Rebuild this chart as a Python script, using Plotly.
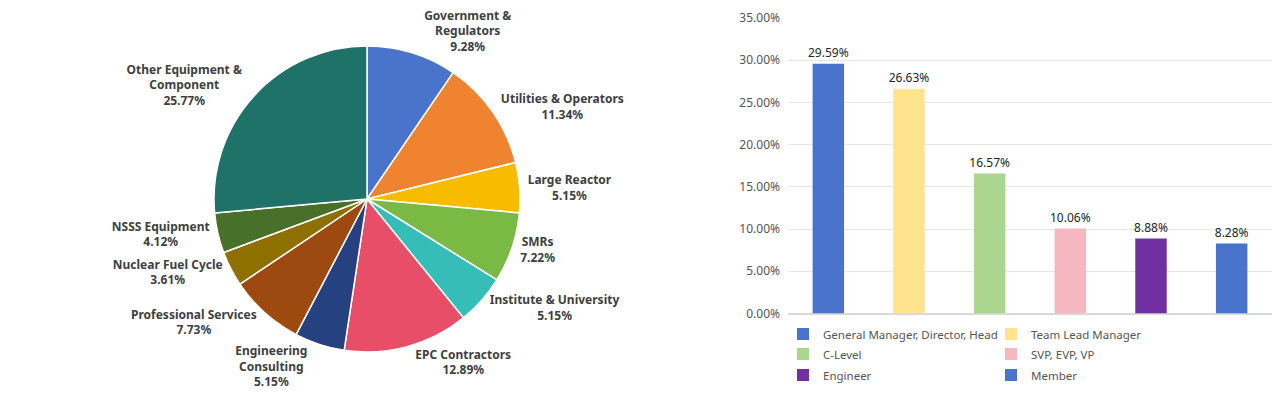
import plotly.graph_objects as go

# Pie data
pie_labels = ["Government &<br>Regulators", "Utilities & Operators", "Large Reactor", "SMRs",
              "Institute & University", "EPC Contractors", "Engineering<br>Consulting",
              "Professional Services", "Nuclear Fuel Cycle", "NSSS Equipment",
              "Other Equipment &<br>Component"]
pie_values = [9.28, 11.34, 5.15, 7.22, 5.15, 12.89, 5.15, 7.73, 3.61, 4.12, 25.77]
pie_colors = ["#4A74CC", "#F0832F", "#F7BC00", "#7AB944", "#37BDB7", "#E84E68",
              "#26417F", "#9C4A10", "#8E7000", "#48702A", "#1F7268"]

# Bar data
bar_labels = ["General Manager, Director, Head", "Team Lead Manager", "C-Level",
              "SVP, EVP, VP", "Engineer", "Member"]
bar_values = [29.59, 26.63, 16.57, 10.06, 8.88, 8.28]
bar_colors = ["#4A74CC", "#FFE38F", "#ABD68F", "#F5B8C0", "#7030A0", "#4A74CC"]
y_ticks = [0, 5, 10, 15, 20, 25, 30, 35]

# the page body adds an 8px margin around the figure
OFF = 8
W, H = 1280 - 2 * OFF, 398 - 2 * OFF
FONT = "Noto Sans"


def fx(px):
    return (px - OFF) / W


def fy(py):
    return 1 - (py - OFF) / H


PIE_CX, PIE_CY, PIE_R = 367, 199, 153

fig = go.Figure()

fig.add_trace(go.Pie(
    labels=pie_labels, values=pie_values,
    text=[f"{v:.2f}%" for v in pie_values],
    texttemplate="%{label}<br>%{text}",
    textposition="outside",
    sort=False, direction="clockwise", rotation=0,
    marker=dict(colors=pie_colors, line=dict(color="white", width=1.5)),
    textfont=dict(family=FONT, size=12, color="#404040", weight="bold"),
    domain=dict(x=[fx(PIE_CX - PIE_R), fx(PIE_CX + PIE_R)],
                y=[fy(PIE_CY + PIE_R), fy(PIE_CY - PIE_R)]),
    showlegend=False, hoverinfo="label+text", automargin=False,
))

legend_names = ["legend", "legend", "legend2", "legend2", "legend3", "legend3"]
for lab, val, col, lg in zip(bar_labels, bar_values, bar_colors, legend_names):
    fig.add_trace(go.Bar(
        x=[lab], y=[val], name=lab, marker=dict(color=col),
        text=[f"{val:.2f}%"], textposition="outside", constraintext="none",
        textfont=dict(family=FONT, size=12, color="#262626"),
        cliponaxis=False, width=0.39, legend=lg,
    ))

legend_common = dict(orientation="h", xanchor="left", yanchor="middle",
                     font=dict(family=FONT, size=11.5, color="#555555"),
                     entrywidth=163, entrywidthmode="pixels", bgcolor="rgba(0,0,0,0)",
                     itemclick=False, itemdoubleclick=False, tracegroupgap=0)
lx = fx(783)
fig.update_layout(
    width=W, height=H,
    template="none",
    margin=dict(l=0, r=0, t=0, b=0, autoexpand=False),
    paper_bgcolor="white", plot_bgcolor="white",
    barmode="overlay",
    font=dict(family=FONT),
    xaxis=dict(domain=[fx(788), 1.0], showticklabels=False, showgrid=False,
               zeroline=False, showline=False, categoryorder="array",
               categoryarray=bar_labels, fixedrange=True, automargin=False),
    yaxis=dict(domain=[fy(313.5), fy(18)], range=[0, 35],
               tickvals=y_ticks, ticktext=[f"{t:.2f}%" for t in y_ticks],
               showgrid=True, gridcolor="#E6E6E6", gridwidth=1,
               zeroline=True, zerolinecolor="#D9D9D9", zerolinewidth=1.5,
               showline=False, ticklabelstandoff=7,
               tickfont=dict(family=FONT, size=12, color="#555555"),
               ticks="", ticklen=0, fixedrange=True, automargin=False),
    legend=dict(x=lx, y=fy(334), **legend_common),
    legend2=dict(x=lx, y=fy(354), **legend_common),
    legend3=dict(x=lx, y=fy(375), **legend_common),
)

fig.write_html("out.html")
